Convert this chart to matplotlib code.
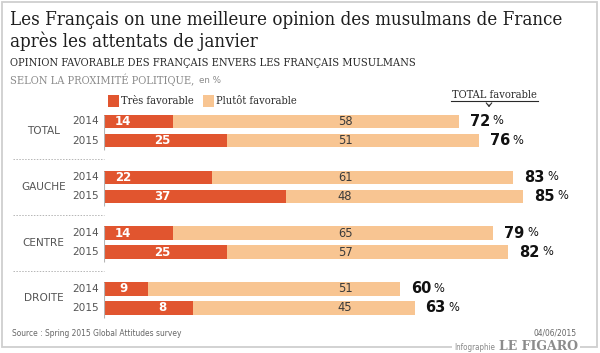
import matplotlib
matplotlib.use("Agg")
import matplotlib.pyplot as plt
import matplotlib.transforms as mtransforms
from matplotlib.patches import Rectangle, FancyArrowPatch

# ---------------- data ----------------
groups = ["TOTAL", "GAUCHE", "CENTRE", "DROITE"]
years = ["2014", "2015"]
tres = [14, 25, 22, 37, 14, 25, 9, 18]
tres_labels = ["14", "25", "22", "37", "14", "25", "9", "8"]
plutot = [58, 51, 61, 48, 65, 57, 51, 45]
total = [72, 76, 83, 85, 79, 82, 60, 63]

title1 = "Les Français on une meilleure opinion des musulmans de France"
title2 = "après les attentats de janvier"
subtitle1 = "OPINION FAVORABLE DES FRANÇAIS ENVERS LES FRANÇAIS MUSULMANS"
subtitle2 = "SELON LA PROXIMITÉ POLITIQUE,"
subtitle2b = "en %"
legend_labels = ["Très favorable", "Plutôt favorable"]
total_header = "TOTAL favorable"
source = "Source : Spring 2015 Global Attitudes survey"
date = "04/06/2015"

C_DARK = "#e1552f"
C_LIGHT = "#f8c592"
SERIF = ["DejaVu Serif"]
SANS = ["DejaVu Sans"]

W, H = 600, 353
fig = plt.figure(figsize=(W / 100, H / 100), dpi=100)
fig.patch.set_facecolor("white")


def T(x, y, s, **kw):
    return fig.text(x / W, 1 - y / H, s, **kw)


# border
fig.patches.append(Rectangle((2 / W, 1 - 347 / H), 595 / W, 345 / H,
                             transform=fig.transFigure, fill=False,
                             edgecolor="#cfcfcf", lw=1.3))

# title & subtitles
T(10, 20, title1, fontsize=13.45, family=SERIF, color="#1e1e1e", va="center",
  fontstretch="condensed")
T(10, 41, title2, fontsize=13.45, family=SERIF, color="#1e1e1e", va="center",
  fontstretch="condensed")
T(10, 63, subtitle1, fontsize=7.95, family=SERIF, color="#2a2a2a", va="center",
  fontstretch="condensed")
T(10, 80, subtitle2, fontsize=7.95, family=SERIF, color="#8a8a8a", va="center",
  fontstretch="condensed")
T(199, 80.5, subtitle2b, fontsize=6.3, family=SANS, color="#8a8a8a", va="center")

# legend
for (lx, lab, col) in [(108, legend_labels[0], C_DARK), (203, legend_labels[1], C_LIGHT)]:
    fig.patches.append(Rectangle((lx / W, 1 - 107 / H), 11 / W, 12 / H,
                                 transform=fig.transFigure, color=col, lw=0))
    T(lx + 13, 100.5, lab, fontsize=7.95, family=SERIF, color="#2a2a2a", va="center",
      fontstretch="condensed")

# TOTAL favorable header
T(494, 95, total_header, fontsize=7.95, family=SERIF, color="#2a2a2a", va="center",
  ha="center", fontstretch="condensed")
fig.lines.append(plt.Line2D([451 / W, 538 / W], [1 - 100.5 / H, 1 - 100.5 / H],
                            transform=fig.transFigure, color="#2a2a2a", lw=0.8))
fig.patches.append(FancyArrowPatch((489 / W, 1 - 102 / H), (489 / W, 1 - 110 / H),
                                   transform=fig.transFigure,
                                   arrowstyle="->,head_width=2,head_length=2.5",
                                   color="#2a2a2a", lw=0.8))

# ---------------- bars ----------------
ax = fig.add_axes([104 / W, (H - 325) / H, 493 / W, 220 / H])
ax.set_xlim(0, 100)
ax.set_ylim(220, 0)
ax.axis("off")

BAR_H = 13.5
ypos = []
for g in range(len(groups)):
    for r in range(len(years)):
        ypos.append(16.5 + g * 55.8 + r * 19)

ax.barh(ypos, tres, height=BAR_H, color=C_DARK, lw=0)
ax.barh(ypos, plutot, left=tres, height=BAR_H, color=C_LIGHT, lw=0)

pct_tr = mtransforms.offset_copy(ax.transData, fig=fig, x=23, y=0.5, units="dots")
for i, y in enumerate(ypos):
    r = i % 2
    ax.text(3.9 if r == 0 else 11.8, y, tres_labels[i], color="white", fontsize=8.5,
            fontweight="bold", family=SANS, ha="center", va="center")
    ax.text(48.9, y, str(plutot[i]), color="#3a3a3a", fontsize=8.3,
            family=SANS, ha="center", va="center")
    ax.text(total[i] + 2.2, y, str(total[i]), color="#111111", fontsize=10.5,
            fontweight="bold", family=SANS, ha="left", va="center")
    ax.text(total[i] + 2.2, y, "%", color="#111111", fontsize=8.3,
            family=SANS, ha="left", va="center", transform=pct_tr)
    ax.text(-1.0, y, years[r], color="#555555", fontsize=7.6, family=SANS,
            ha="right", va="center", clip_on=False)

for g, name in enumerate(groups):
    y0 = ypos[2 * g] - BAR_H / 2
    y1 = ypos[2 * g + 1] + BAR_H / 2 + 3
    ax.vlines(0, y0, y1, color="#b5b5b5", lw=0.8)
    ax.text(-12.2, (ypos[2 * g] + ypos[2 * g + 1]) / 2, name, color="#555555",
            fontsize=7.6, family=SANS, ha="center", va="center", clip_on=False)
    if g < len(groups) - 1:
        ysep = (ypos[2 * g + 1] + ypos[2 * g + 2]) / 2
        ax.plot([-18.5, 0], [ysep, ysep], color="#b5b5b5", lw=0.7,
                ls=(0, (1.5, 1.5)), clip_on=False)

# footer
T(12, 333, source, fontsize=6.0, family=SANS, fontstretch="condensed",
  color="#666666", va="center")
T(577, 333, date, fontsize=6.0, family=SANS, fontstretch="condensed",
  color="#666666", va="center", ha="right")
T(578, 347, "LE FIGARO", fontsize=9, family=SERIF, fontweight="bold", color="#8c8c8c",
  va="center", ha="right", bbox=dict(facecolor="white", edgecolor="none", pad=1.5))
T(495, 347.5, "Infographie", fontsize=5.8, family=SANS, fontstretch="condensed",
  color="#888888", va="center", ha="right",
  bbox=dict(facecolor="white", edgecolor="none", pad=1.5))

fig.savefig("out.png", dpi=100, facecolor="white")
